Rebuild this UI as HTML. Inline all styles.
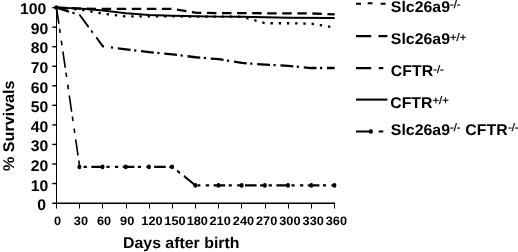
<!DOCTYPE html><html><head><meta charset="utf-8"><title>Survival</title><style>html,body{margin:0;padding:0;background:#fff}svg{display:block}</style></head><body>
<svg width="518" height="252" viewBox="0 0 518 252" text-rendering="geometricPrecision">
<rect width="518" height="252" fill="#fff"/>
<g transform="scale(1,1.4286)">
<g stroke="#000" stroke-width="1" fill="none">
<line x1="56.5" y1="5.32" x2="56.5" y2="145.88"/>
<line x1="52.3" y1="142.25" x2="335.1" y2="142.25" stroke-width="1.08"/>
<line x1="52.3" y1="128.48" x2="56.5" y2="128.48"/>
<line x1="52.3" y1="114.80" x2="56.5" y2="114.80"/>
<line x1="52.3" y1="101.11" x2="56.5" y2="101.11"/>
<line x1="52.3" y1="87.43" x2="56.5" y2="87.43"/>
<line x1="52.3" y1="73.74" x2="56.5" y2="73.74"/>
<line x1="52.3" y1="60.06" x2="56.5" y2="60.06"/>
<line x1="52.3" y1="46.38" x2="56.5" y2="46.38"/>
<line x1="52.3" y1="32.69" x2="56.5" y2="32.69"/>
<line x1="52.3" y1="19.01" x2="56.5" y2="19.01"/>
<line x1="52.3" y1="5.32" x2="56.5" y2="5.32"/>
<line x1="79.5" y1="142.17" x2="79.5" y2="145.88"/>
<line x1="102.5" y1="142.17" x2="102.5" y2="145.88"/>
<line x1="126.5" y1="142.17" x2="126.5" y2="145.88"/>
<line x1="149.5" y1="142.17" x2="149.5" y2="145.88"/>
<line x1="172.5" y1="142.17" x2="172.5" y2="145.88"/>
<line x1="195.5" y1="142.17" x2="195.5" y2="145.88"/>
<line x1="218.5" y1="142.17" x2="218.5" y2="145.88"/>
<line x1="241.5" y1="142.17" x2="241.5" y2="145.88"/>
<line x1="265.5" y1="142.17" x2="265.5" y2="145.88"/>
<line x1="288.5" y1="142.17" x2="288.5" y2="145.88"/>
<line x1="311.5" y1="142.17" x2="311.5" y2="145.88"/>
<line x1="334.5" y1="142.17" x2="334.5" y2="145.88"/>
</g>
<g fill="none" stroke="#000" stroke-width="1.6" stroke-linejoin="round">
<polyline points="56.50,5.32 79.68,6.69 102.87,9.56 126.05,11.48 149.23,11.48 172.42,11.48 195.60,11.62 218.78,11.62 241.97,11.75 265.15,16.27 288.33,16.27 311.52,16.54 334.70,19.28" stroke-dasharray="2.4 5.82" stroke-dashoffset="7.22"/>
<polyline points="56.50,5.32 79.68,6.00 102.87,6.28 172.42,6.28 195.60,8.88 218.78,9.15 311.52,9.43 334.70,10.11" stroke-dasharray="9.5 5.56"/>
<polyline points="56.50,5.32 79.68,10.52 102.87,32.42 104.03,32.53" stroke-dasharray="12.8 3.5 2.2 4.8" stroke-dashoffset="0"/>
<polyline points="107.89,32.90 126.05,34.61 149.23,36.52 172.42,38.03 195.60,40.08 218.78,41.45 241.97,44.05 265.15,45.28 288.33,46.10 311.52,47.61 334.70,47.61" stroke-dasharray="12.8 3.5 2.2 4.8" stroke-dashoffset="13.3"/>
<polyline points="56.50,5.32 79.68,6.00 102.87,7.37 126.05,9.22 149.23,10.52 172.42,11.00 195.60,11.41 218.78,11.62 241.97,11.75 265.15,12.03 288.33,12.44 334.70,12.57" stroke-width="1.35"/>
<polyline points="56.50,5.32 79.68,116.85 172.42,116.85 195.60,129.79 334.70,129.79" stroke-dasharray="11.6 3.5 3.1 5.4 3.3 4.5"/>
</g>
<ellipse cx="56.20" cy="5.32" rx="2" ry="1.7" fill="#000"/>
<ellipse cx="79.38" cy="116.85" rx="2" ry="1.7" fill="#000"/>
<ellipse cx="102.57" cy="116.85" rx="2" ry="1.7" fill="#000"/>
<ellipse cx="125.75" cy="116.85" rx="2" ry="1.7" fill="#000"/>
<ellipse cx="148.93" cy="116.85" rx="2" ry="1.7" fill="#000"/>
<ellipse cx="172.12" cy="116.85" rx="2" ry="1.7" fill="#000"/>
<ellipse cx="195.30" cy="129.79" rx="2" ry="1.7" fill="#000"/>
<ellipse cx="218.48" cy="129.79" rx="2" ry="1.7" fill="#000"/>
<ellipse cx="241.67" cy="129.79" rx="2" ry="1.7" fill="#000"/>
<ellipse cx="264.85" cy="129.79" rx="2" ry="1.7" fill="#000"/>
<ellipse cx="288.03" cy="129.79" rx="2" ry="1.7" fill="#000"/>
<ellipse cx="311.22" cy="129.79" rx="2" ry="1.7" fill="#000"/>
<ellipse cx="334.40" cy="129.79" rx="2" ry="1.7" fill="#000"/>
</g>
<text transform="translate(46.0,210.4) scale(1.017,1)" text-anchor="end" font-size="15.5" font-family="Liberation Sans, sans-serif" font-weight="bold" fill="#000">0</text>
<text transform="translate(48.4,190.8) scale(1.017,1)" text-anchor="end" font-size="15.5" font-family="Liberation Sans, sans-serif" font-weight="bold" fill="#000">10</text>
<text transform="translate(48.4,171.1) scale(1.017,1)" text-anchor="end" font-size="15.5" font-family="Liberation Sans, sans-serif" font-weight="bold" fill="#000">20</text>
<text transform="translate(48.4,151.4) scale(1.017,1)" text-anchor="end" font-size="15.5" font-family="Liberation Sans, sans-serif" font-weight="bold" fill="#000">30</text>
<text transform="translate(48.4,131.8) scale(1.017,1)" text-anchor="end" font-size="15.5" font-family="Liberation Sans, sans-serif" font-weight="bold" fill="#000">40</text>
<text transform="translate(48.4,112.1) scale(1.017,1)" text-anchor="end" font-size="15.5" font-family="Liberation Sans, sans-serif" font-weight="bold" fill="#000">50</text>
<text transform="translate(48.4,92.5) scale(1.017,1)" text-anchor="end" font-size="15.5" font-family="Liberation Sans, sans-serif" font-weight="bold" fill="#000">60</text>
<text transform="translate(48.4,72.8) scale(1.017,1)" text-anchor="end" font-size="15.5" font-family="Liberation Sans, sans-serif" font-weight="bold" fill="#000">70</text>
<text transform="translate(48.4,53.2) scale(1.017,1)" text-anchor="end" font-size="15.5" font-family="Liberation Sans, sans-serif" font-weight="bold" fill="#000">80</text>
<text transform="translate(48.4,33.6) scale(1.017,1)" text-anchor="end" font-size="15.5" font-family="Liberation Sans, sans-serif" font-weight="bold" fill="#000">90</text>
<text transform="translate(46.4,13.9) scale(1.017,1)" text-anchor="end" font-size="15.5" font-family="Liberation Sans, sans-serif" font-weight="bold" fill="#000">100</text>
<text transform="translate(57.5,224.7) scale(1.045,1)" text-anchor="middle" font-size="12.2" font-family="Liberation Sans, sans-serif" font-weight="bold" fill="#000">0</text>
<text transform="translate(80.9,224.7) scale(1.045,1)" text-anchor="middle" font-size="12.2" font-family="Liberation Sans, sans-serif" font-weight="bold" fill="#000">30</text>
<text transform="translate(104,224.7) scale(1.045,1)" text-anchor="middle" font-size="12.2" font-family="Liberation Sans, sans-serif" font-weight="bold" fill="#000">60</text>
<text transform="translate(127.2,224.7) scale(1.045,1)" text-anchor="middle" font-size="12.2" font-family="Liberation Sans, sans-serif" font-weight="bold" fill="#000">90</text>
<text transform="translate(152,224.7) scale(1.045,1)" text-anchor="middle" font-size="12.2" font-family="Liberation Sans, sans-serif" font-weight="bold" fill="#000">120</text>
<text transform="translate(175,224.7) scale(1.045,1)" text-anchor="middle" font-size="12.2" font-family="Liberation Sans, sans-serif" font-weight="bold" fill="#000">150</text>
<text transform="translate(197.3,224.7) scale(1.045,1)" text-anchor="middle" font-size="12.2" font-family="Liberation Sans, sans-serif" font-weight="bold" fill="#000">180</text>
<text transform="translate(220.1,224.7) scale(1.045,1)" text-anchor="middle" font-size="12.2" font-family="Liberation Sans, sans-serif" font-weight="bold" fill="#000">210</text>
<text transform="translate(243.5,224.7) scale(1.045,1)" text-anchor="middle" font-size="12.2" font-family="Liberation Sans, sans-serif" font-weight="bold" fill="#000">240</text>
<text transform="translate(266.6,224.7) scale(1.045,1)" text-anchor="middle" font-size="12.2" font-family="Liberation Sans, sans-serif" font-weight="bold" fill="#000">270</text>
<text transform="translate(289.9,224.7) scale(1.045,1)" text-anchor="middle" font-size="12.2" font-family="Liberation Sans, sans-serif" font-weight="bold" fill="#000">300</text>
<text transform="translate(313.2,224.7) scale(1.045,1)" text-anchor="middle" font-size="12.2" font-family="Liberation Sans, sans-serif" font-weight="bold" fill="#000">330</text>
<text transform="translate(336.4,224.7) scale(1.045,1)" text-anchor="middle" font-size="12.2" font-family="Liberation Sans, sans-serif" font-weight="bold" fill="#000">360</text>
<text transform="translate(123,248.3) scale(1.0245,1)" text-anchor="start" font-size="15.5" font-family="Liberation Sans, sans-serif" font-weight="bold" fill="#000">Days after birth</text>
<text transform="translate(14.2,171) rotate(-90) scale(1.04,1)" font-size="15.5" font-family="Liberation Sans, sans-serif" font-weight="bold" fill="#000">% Survivals</text>
<g fill="none" stroke="#000" stroke-width="2.1">
<path d="M356 3.7h5M367.7 3.3h4.8M380.6 3.7h5"/>
<path d="M356 36.1h15.2M378.5 36.1h8.9"/>
<path d="M356 68.1h15.2M378.7 68.1h4.6"/>
<path d="M356 99.6h31.4"/>
<path d="M356 131.5h15M378.7 131.5h4.6"/>
</g>
<circle cx="370.8" cy="131.5" r="2.2" fill="#000"/>
<text transform="translate(390.8,12.3) scale(1.0245,1)" font-size="15.5" font-family="Liberation Sans, sans-serif" font-weight="bold" fill="#000"><tspan dy="0">Slc26a9</tspan><tspan font-size="11" font-weight="normal" stroke="#000" stroke-width="0.25" dy="-4.5">-/-</tspan></text>
<text transform="translate(390.8,44) scale(1.0245,1)" font-size="15.5" font-family="Liberation Sans, sans-serif" font-weight="bold" fill="#000"><tspan dy="0">Slc26a9</tspan><tspan font-size="11" font-weight="normal" stroke="#000" stroke-width="0.25" dy="-3.5">+/+</tspan></text>
<text transform="translate(390.8,75.7) scale(1.0245,1)" font-size="15.5" font-family="Liberation Sans, sans-serif" font-weight="bold" fill="#000"><tspan dy="0">CFTR</tspan><tspan font-size="11" font-weight="normal" stroke="#000" stroke-width="0.25" dy="-2.7">-/-</tspan></text>
<text transform="translate(390.2,107.8) scale(1.0245,1)" font-size="15.5" font-family="Liberation Sans, sans-serif" font-weight="bold" fill="#000"><tspan dy="0">CFTR</tspan><tspan font-size="11" font-weight="normal" stroke="#000" stroke-width="0.25" dy="-3.5">+/+</tspan></text>
<text transform="translate(390.8,135) scale(1.0245,1)" font-size="15.5" font-family="Liberation Sans, sans-serif" font-weight="bold" fill="#000"><tspan dy="0">Slc26a9</tspan><tspan font-size="11" font-weight="normal" stroke="#000" stroke-width="0.25" dy="-3.8">-/-</tspan><tspan dy="3.8" dx="0.3"> CFTR</tspan><tspan font-size="11" font-weight="normal" stroke="#000" stroke-width="0.25" dy="-3.8" dx="0.3">-/-</tspan></text>
</svg></body></html>
